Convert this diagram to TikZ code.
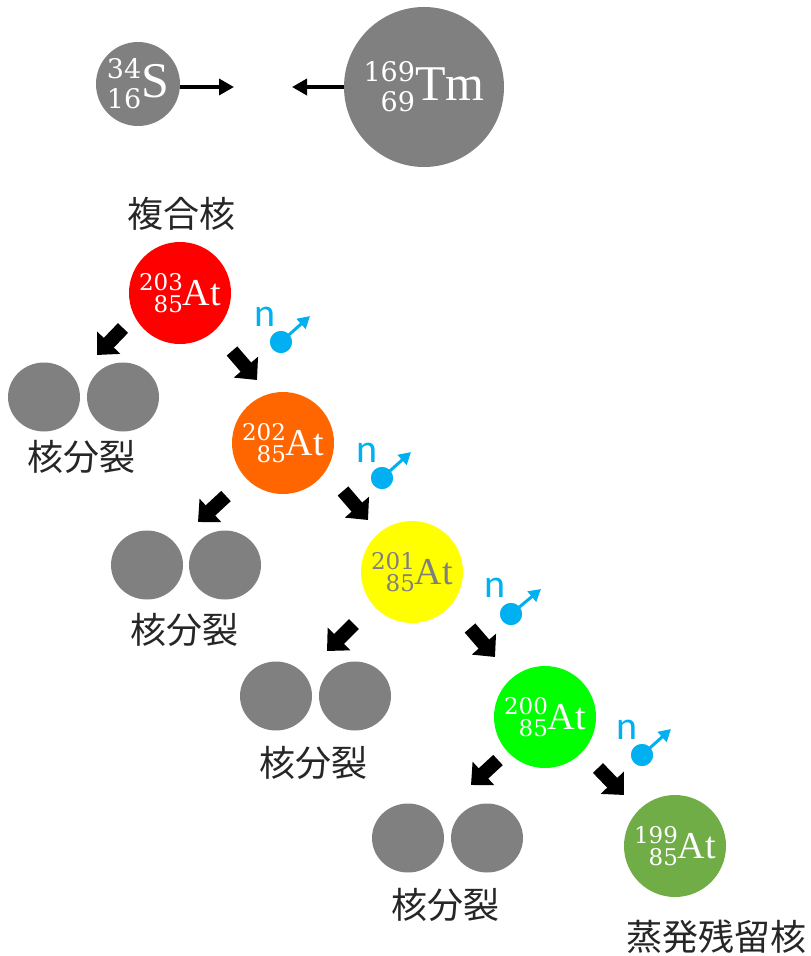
\documentclass[tikz,border=0pt]{standalone}
\usepackage{fontspec}
\setmainfont{Liberation Serif}
\newfontfamily\numfont{DejaVu Serif}
\newfontfamily\jpfont{Noto Sans CJK JP}
\newfontfamily\nfont{Carlito}
\usetikzlibrary{arrows.meta}
\definecolor{nucgray}{HTML}{808080}
\definecolor{ncyan}{HTML}{00B0F0}
\definecolor{cred}{HTML}{FF0000}
\definecolor{corange}{HTML}{FF6600}
\definecolor{cyellow}{HTML}{FFFF00}
\definecolor{cgreen}{HTML}{00FF00}
\definecolor{colive}{HTML}{70AD47}
\definecolor{ytext}{HTML}{7F7F7F}
% isotope label: #1 mass, #2 Z, #3 symbol, #4 number size, #5 symbol size, #6 row spacing, #7 drop
\newcommand\isolabel[7]{%
  \raisebox{-#7}{\numfont\fontsize{#4}{#6}\selectfont
    \vbox{\baselineskip=#6\lineskiplimit=-100pt\lineskip=0pt
      \halign{\hfil##\cr #1\cr #2\cr}}}%
  {\fontsize{#5}{#5}\selectfont #3}}
\tikzset{
  nuc/.style={circle, fill=#1, inner sep=0pt, minimum size=102pt, text=white},
  jp/.style={font=\jpfont\fontsize{36}{36}\selectfont, text=black!85, inner sep=0pt},
  ntext/.style={font=\nfont\fontsize{40}{40}\selectfont, text=ncyan, inner sep=0pt},
  nball/.style={circle, fill=ncyan, inner sep=0pt, minimum size=22pt},
  narr/.style={draw=ncyan, line width=3pt, -{Triangle[length=12pt,width=13pt]}},
  fat/.style={line width=14pt, -{Triangle[length=17pt,width=31pt]}},
  thinarr/.style={line width=3.5pt, -{Triangle[length=15pt,width=16pt]}},
}
\begin{document}
\begin{tikzpicture}[x=1pt,y=-1pt]
\useasboundingbox (0,0) rectangle (811,956);
% colliding nuclei
\node[nuc=nucgray, minimum size=84pt] (S) at (138,84)
  {\isolabel{34}{16}{S}{27pt}{50pt}{30pt}{11pt}};
\node[nuc=nucgray, minimum size=160pt] (Tm) at (424,87)
  {\isolabel{169}{69}{Tm}{27pt}{50pt}{30pt}{11pt}};
\coordinate (Stip) at (234,87);
\coordinate (Tmtip) at (292,87);
\draw[thinarr] (S.east |- Stip) -- (Stip);
\draw[thinarr] (Tm.west |- Tmtip) -- (Tmtip);
\node[jp] (cn) at (181,214) {複合核};
% astatine chain
\node[nuc=cred] (a203) at (180,293) {\isolabel{203}{85}{At}{23pt}{38pt}{22pt}{7pt}};
\node[nuc=corange] (a202) at (283,443) {\isolabel{202}{85}{At}{23pt}{38pt}{22pt}{7pt}};
\node[nuc=cyellow, text=ytext] (a201) at (412,572) {\isolabel{201}{85}{At}{23pt}{38pt}{22pt}{7pt}};
\node[nuc=cgreen] (a200) at (545,717) {\isolabel{200}{85}{At}{23pt}{38pt}{22pt}{7pt}};
\node[nuc=colive] (a199) at (675,846) {\isolabel{199}{85}{At}{23pt}{38pt}{22pt}{7pt}};
\node[jp] (er) at (716,937) {蒸発残留核};
% fission fragments
\foreach \i/\xl/\xr/\yy/\ty in {1/44/123/397/457, 2/147/225/565/630, 3/276/355/696/763, 4/408/487/838/905}{
  \fill[nucgray] (\xl,\yy) ellipse [x radius=36, y radius=34.5];
  \fill[nucgray] (\xr,\yy) ellipse [x radius=36, y radius=34.5];
  \node[jp] (fis\i) at ({(\xl+\xr)/2-2},\ty) {核分裂};
}
% neutrons
\foreach \i/\nx/\ny/\bx/\by/\tx/\tyy in {1/265/317/281/342/310/316, 2/367/453/382/478/411/452, 3/495/588/511/614/541/589, 4/627/730/642/755/671/729}{
  \node[ntext] (nt\i) at (\nx,\ny) {n};
  \node[nball] (nb\i) at (\bx,\by) {};
  \coordinate (ntip\i) at (\tx,\tyy);
  \draw[narr] (nb\i.center) -- (ntip\i);
  \node[nball] at (nb\i) {};
}
% fat arrows
\coordinate (l1a) at (123,328); \coordinate (l1b) at (97,355);
\coordinate (r1a) at (232,351); \coordinate (r1b) at (257,380);
\coordinate (l2a) at (226,496); \coordinate (l2b) at (198,522);
\coordinate (r2a) at (343,491); \coordinate (r2b) at (368,520);
\coordinate (l3a) at (354,624); \coordinate (l3b) at (327,651);
\coordinate (r3a) at (470,628); \coordinate (r3b) at (495,657);
\coordinate (l4a) at (498,760); \coordinate (l4b) at (471,785);
\coordinate (r4a) at (598,768); \coordinate (r4b) at (624,795);
\foreach \i in {1,2,3,4}{
  \draw[fat] (l\i a) -- (l\i b);
  \draw[fat] (r\i a) -- (r\i b);
}
\end{tikzpicture}
\end{document}
